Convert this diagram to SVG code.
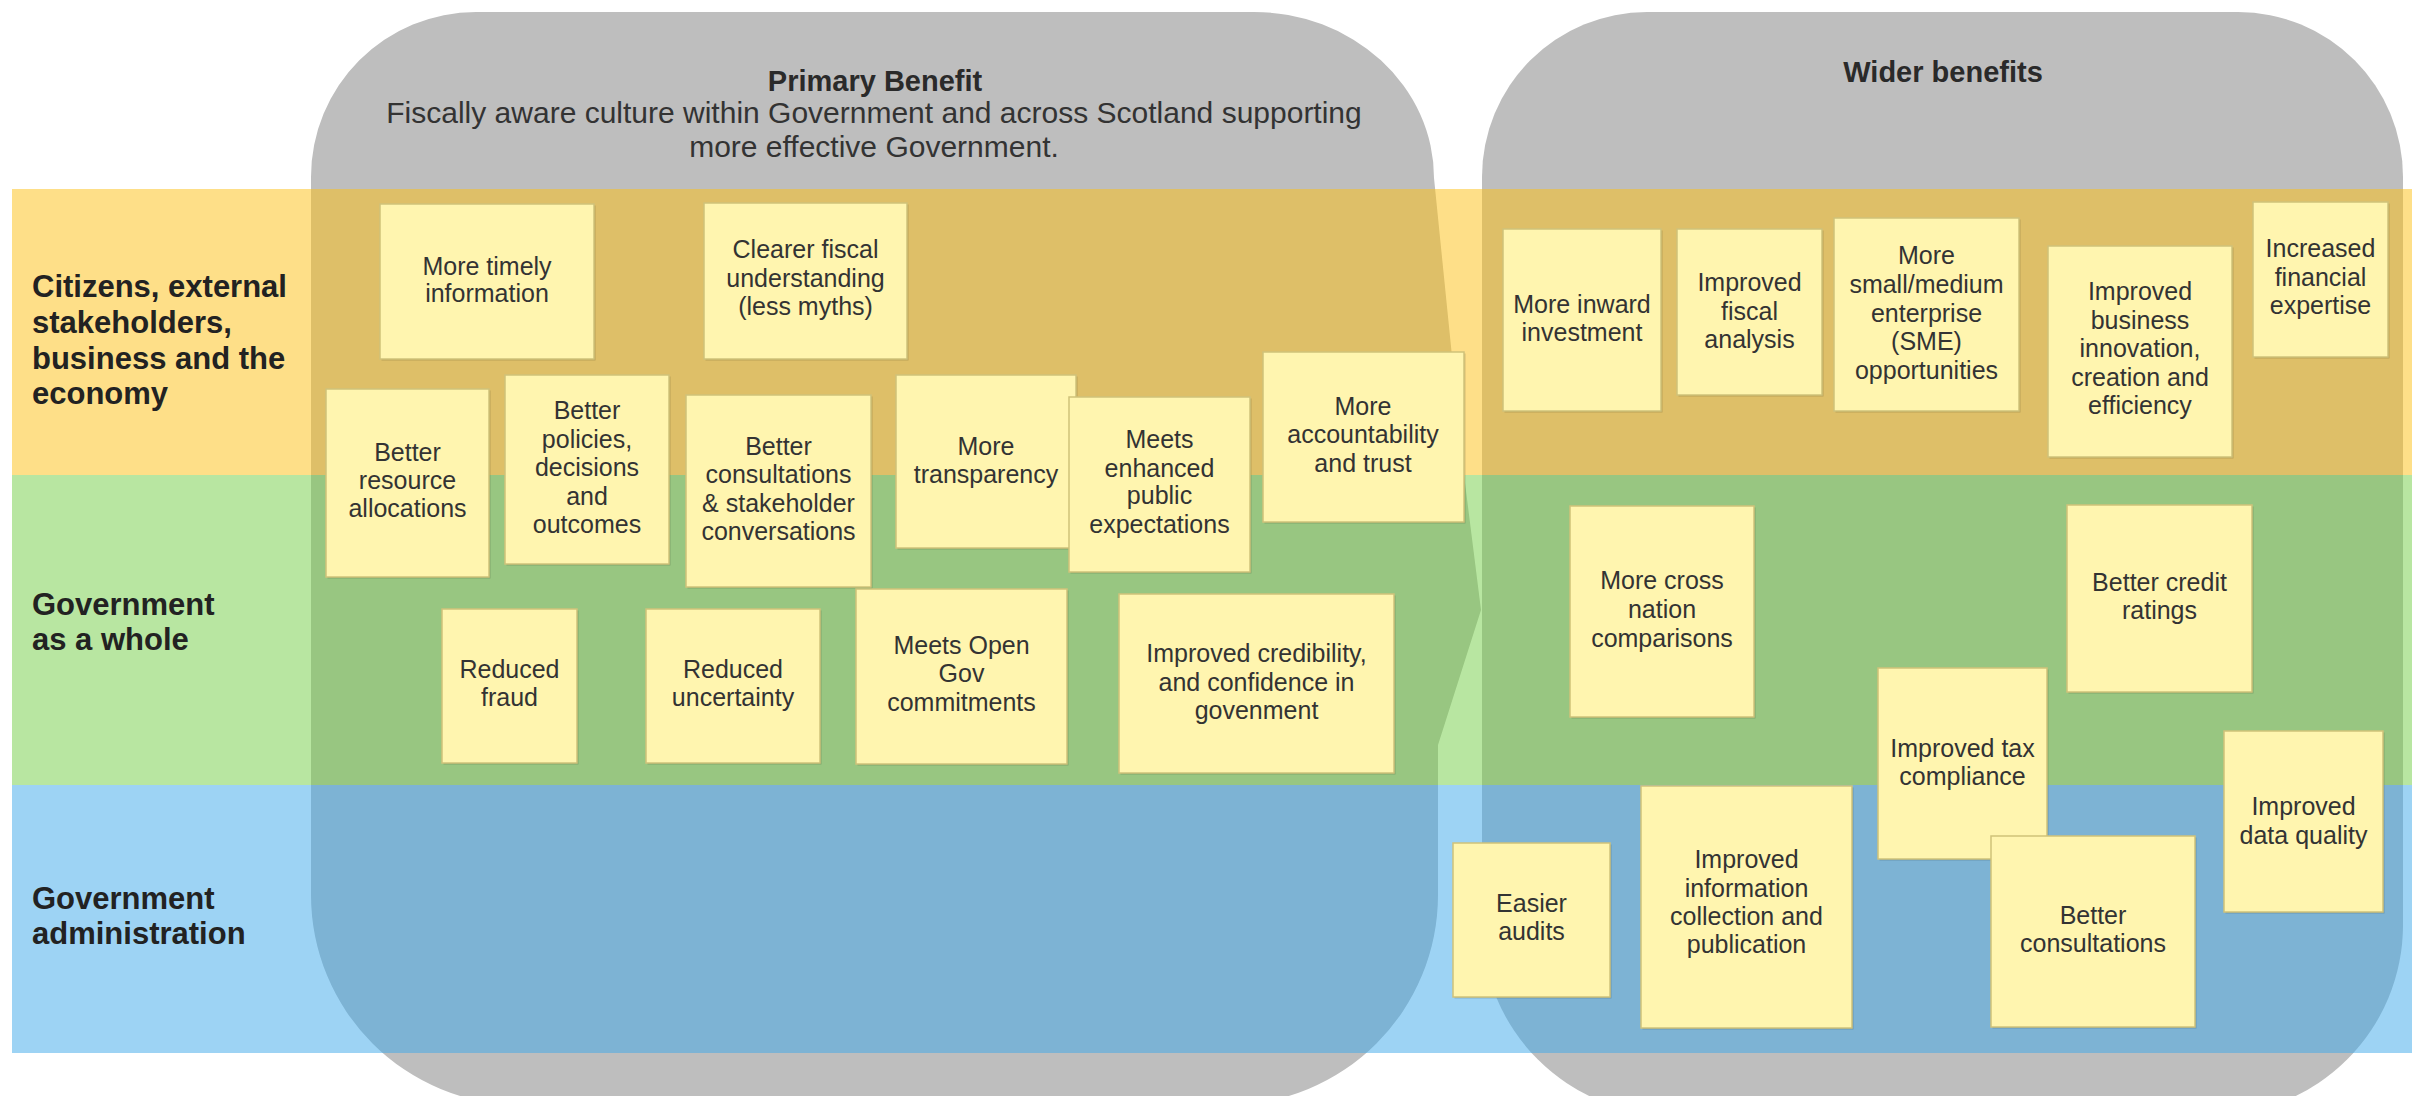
<svg xmlns="http://www.w3.org/2000/svg" width="2412" height="1096" viewBox="0 0 2412 1096">
<style>
  .area { fill: #BEBEBE; }
  .band { opacity: 0.5; }
  .note .bg { fill: #FFF5AF; stroke: #CFC27A; stroke-width: 1.5; }
  .note .sh { fill: #000000; opacity: 0.16; }
  .nt { font-family: "Liberation Sans", Arial, Helvetica, sans-serif; font-size: 25px; fill: #333333; text-anchor: middle; }
  .hd { font-family: "Liberation Sans", Arial, Helvetica, sans-serif; font-weight: bold; font-size: 29px; fill: #2a2a2a; text-anchor: middle; }
  .sub { font-family: "Liberation Sans", Arial, Helvetica, sans-serif; font-size: 30px; fill: #333333; text-anchor: middle; }
  .lbl { font-family: "Liberation Sans", Arial, Helvetica, sans-serif; font-weight: bold; font-size: 31px; fill: #222222; }
</style>
<rect x="0" y="0" width="2412" height="1096" fill="#FFFFFF"/>

<g id="benefit-areas">
  <path id="primary-area" class="area" d="M 311,177 A 165 165 0 0 1 476,12 L 1253,12 A 180 166 0 0 1 1434,178 L 1464,475 L 1481,610 L 1438,745 L 1438,895 A 210 210 0 0 1 1228,1105 L 521,1105 A 210 210 0 0 1 311,895 Z"/>
  <path id="wider-area" class="area" d="M 1482,177 A 165 165 0 0 1 1647,12 L 2238,12 A 165 165 0 0 1 2403,177 L 2403,925 A 190 190 0 0 1 2213,1115 L 1672,1115 A 190 190 0 0 1 1482,925 Z"/>
</g>

<g id="bands">
  <rect id="band-citizens" class="band" x="12" y="189" width="2400" height="286" fill="#FDBF11"/>
  <rect id="band-government" class="band" x="12" y="475" width="2400" height="310" fill="#71CD43"/>
  <rect id="band-admin" class="band" x="12" y="785" width="2400" height="268" fill="#3BA7E9"/>
</g>

<g id="headers">
  <text class="hd" x="875" y="91">Primary Benefit</text>
  <text class="sub" x="874"><tspan x="874" y="123">Fiscally aware culture within Government and across Scotland supporting</tspan><tspan x="874" y="157">more effective Government.</tspan></text>
  <text class="hd" x="1943" y="82">Wider benefits</text>
</g>

<g id="row-labels">
  <text class="lbl" x="32"><tspan x="32" y="297">Citizens, external</tspan><tspan x="32" y="333">stakeholders,</tspan><tspan x="32" y="368.5">business and the</tspan><tspan x="32" y="403.5">economy</tspan></text>
  <text class="lbl" x="32"><tspan x="32" y="615">Government</tspan><tspan x="32" y="649.5">as a whole</tspan></text>
  <text class="lbl" x="32"><tspan x="32" y="909">Government</tspan><tspan x="32" y="944">administration</tspan></text>
</g>

<g id="connectors"></g>

<g id="n-timely" class="note"><rect class="sh" x="381.5" y="205.5" width="214" height="155"/><rect class="bg" x="380" y="204" width="214" height="155"/>
  <text class="nt"><tspan x="487" y="275">More timely</tspan><tspan x="487" y="302">information</tspan></text></g>
<g id="n-clearer" class="note"><rect class="sh" x="705.5" y="204.5" width="203" height="156"/><rect class="bg" x="704" y="203" width="203" height="156"/>
  <text class="nt"><tspan x="805.5" y="258">Clearer fiscal</tspan><tspan x="805.5" y="287">understanding</tspan><tspan x="805.5" y="315">(less myths)</tspan></text></g>
<g id="n-resource" class="note"><rect class="sh" x="327.5" y="390.5" width="163" height="188"/><rect class="bg" x="326" y="389" width="163" height="188"/>
  <text class="nt"><tspan x="407.5" y="461">Better</tspan><tspan x="407.5" y="489">resource</tspan><tspan x="407.5" y="517">allocations</tspan></text></g>
<g id="n-policies" class="note"><rect class="sh" x="506.5" y="376.5" width="164" height="189"/><rect class="bg" x="505" y="375" width="164" height="189"/>
  <text class="nt"><tspan x="587" y="419">Better</tspan><tspan x="587" y="447.5">policies,</tspan><tspan x="587" y="476">decisions</tspan><tspan x="587" y="504.5">and</tspan><tspan x="587" y="533">outcomes</tspan></text></g>
<g id="n-consultations" class="note"><rect class="sh" x="687.5" y="396.5" width="185" height="192"/><rect class="bg" x="686" y="395" width="185" height="192"/>
  <text class="nt"><tspan x="778.5" y="454.5">Better</tspan><tspan x="778.5" y="483">consultations</tspan><tspan x="778.5" y="511.5">&amp; stakeholder</tspan><tspan x="778.5" y="540">conversations</tspan></text></g>
<g id="n-transparency" class="note"><rect class="sh" x="897.5" y="376.5" width="180" height="173"/><rect class="bg" x="896" y="375" width="180" height="173"/>
  <text class="nt"><tspan x="986" y="455">More</tspan><tspan x="986" y="483">transparency</tspan></text></g>
<g id="n-expectations" class="note"><rect class="sh" x="1070.5" y="398.5" width="181" height="175"/><rect class="bg" x="1069" y="397" width="181" height="175"/>
  <text class="nt"><tspan x="1159.5" y="448">Meets</tspan><tspan x="1159.5" y="476.5">enhanced</tspan><tspan x="1159.5" y="504">public</tspan><tspan x="1159.5" y="532.5">expectations</tspan></text></g>
<g id="n-accountability" class="note"><rect class="sh" x="1264.5" y="353.5" width="201" height="170"/><rect class="bg" x="1263" y="352" width="201" height="170"/>
  <text class="nt"><tspan x="1363" y="414.5">More</tspan><tspan x="1363" y="443">accountability</tspan><tspan x="1363" y="471.5">and trust</tspan></text></g>
<g id="n-fraud" class="note"><rect class="sh" x="443.5" y="610.5" width="135" height="154"/><rect class="bg" x="442" y="609" width="135" height="154"/>
  <text class="nt"><tspan x="509.5" y="678">Reduced</tspan><tspan x="509.5" y="706">fraud</tspan></text></g>
<g id="n-uncertainty" class="note"><rect class="sh" x="647.5" y="610.5" width="174" height="154"/><rect class="bg" x="646" y="609" width="174" height="154"/>
  <text class="nt"><tspan x="733" y="678">Reduced</tspan><tspan x="733" y="706">uncertainty</tspan></text></g>
<g id="n-opengov" class="note"><rect class="sh" x="857.5" y="590.5" width="211" height="175"/><rect class="bg" x="856" y="589" width="211" height="175"/>
  <text class="nt"><tspan x="961.5" y="653.5">Meets Open</tspan><tspan x="961.5" y="682">Gov</tspan><tspan x="961.5" y="710.5">commitments</tspan></text></g>
<g id="n-credibility" class="note"><rect class="sh" x="1120.5" y="595.5" width="275" height="179"/><rect class="bg" x="1119" y="594" width="275" height="179"/>
  <text class="nt"><tspan x="1256.5" y="662">Improved credibility,</tspan><tspan x="1256.5" y="690.5">and confidence in</tspan><tspan x="1256.5" y="719">govenment</tspan></text></g>

<g id="n-inward" class="note"><rect class="sh" x="1504.5" y="230.5" width="158" height="182"/><rect class="bg" x="1503" y="229" width="158" height="182"/>
  <text class="nt"><tspan x="1582" y="312.5">More inward</tspan><tspan x="1582" y="341">investment</tspan></text></g>
<g id="n-fiscal" class="note"><rect class="sh" x="1678.5" y="230.5" width="145" height="166"/><rect class="bg" x="1677" y="229" width="145" height="166"/>
  <text class="nt"><tspan x="1749.5" y="291">Improved</tspan><tspan x="1749.5" y="320">fiscal</tspan><tspan x="1749.5" y="348">analysis</tspan></text></g>
<g id="n-sme" class="note"><rect class="sh" x="1835.5" y="219.5" width="185" height="193"/><rect class="bg" x="1834" y="218" width="185" height="193"/>
  <text class="nt"><tspan x="1926.5" y="264">More</tspan><tspan x="1926.5" y="293">small/medium</tspan><tspan x="1926.5" y="321.5">enterprise</tspan><tspan x="1926.5" y="350">(SME)</tspan><tspan x="1926.5" y="379">opportunities</tspan></text></g>
<g id="n-innovation" class="note"><rect class="sh" x="2049.5" y="247.5" width="184" height="211"/><rect class="bg" x="2048" y="246" width="184" height="211"/>
  <text class="nt"><tspan x="2140" y="300">Improved</tspan><tspan x="2140" y="328.5">business</tspan><tspan x="2140" y="357">innovation,</tspan><tspan x="2140" y="385.5">creation and</tspan><tspan x="2140" y="414">efficiency</tspan></text></g>
<g id="n-expertise" class="note"><rect class="sh" x="2254.5" y="203.5" width="135" height="155"/><rect class="bg" x="2253" y="202" width="135" height="155"/>
  <text class="nt"><tspan x="2320.5" y="257">Increased</tspan><tspan x="2320.5" y="285.5">financial</tspan><tspan x="2320.5" y="314">expertise</tspan></text></g>
<g id="n-crossnation" class="note"><rect class="sh" x="1571.5" y="507.5" width="184" height="211"/><rect class="bg" x="1570" y="506" width="184" height="211"/>
  <text class="nt"><tspan x="1662" y="589">More cross</tspan><tspan x="1662" y="618">nation</tspan><tspan x="1662" y="646.5">comparisons</tspan></text></g>
<g id="n-credit" class="note"><rect class="sh" x="2068.5" y="506.5" width="185" height="187"/><rect class="bg" x="2067" y="505" width="185" height="187"/>
  <text class="nt"><tspan x="2159.5" y="591">Better credit</tspan><tspan x="2159.5" y="619">ratings</tspan></text></g>
<g id="n-tax" class="note"><rect class="sh" x="1879.5" y="669.5" width="169" height="191"/><rect class="bg" x="1878" y="668" width="169" height="191"/>
  <text class="nt"><tspan x="1962.5" y="757">Improved tax</tspan><tspan x="1962.5" y="785">compliance</tspan></text></g>
<g id="n-dataquality" class="note"><rect class="sh" x="2225.5" y="732.5" width="159" height="181"/><rect class="bg" x="2224" y="731" width="159" height="181"/>
  <text class="nt"><tspan x="2303.5" y="815">Improved</tspan><tspan x="2303.5" y="844">data quality</tspan></text></g>
<g id="n-audits" class="note"><rect class="sh" x="1454.5" y="844.5" width="157" height="154"/><rect class="bg" x="1453" y="843" width="157" height="154"/>
  <text class="nt"><tspan x="1531.5" y="912">Easier</tspan><tspan x="1531.5" y="940">audits</tspan></text></g>
<g id="n-infocollection" class="note"><rect class="sh" x="1642.5" y="787.5" width="211" height="242"/><rect class="bg" x="1641" y="786" width="211" height="242"/>
  <text class="nt"><tspan x="1746.5" y="868">Improved</tspan><tspan x="1746.5" y="896.5">information</tspan><tspan x="1746.5" y="925">collection and</tspan><tspan x="1746.5" y="953">publication</tspan></text></g>
<g id="n-betterconsult" class="note"><rect class="sh" x="1992.5" y="837.5" width="204" height="191"/><rect class="bg" x="1991" y="836" width="204" height="191"/>
  <text class="nt"><tspan x="2093" y="924">Better</tspan><tspan x="2093" y="952">consultations</tspan></text></g>
</svg>
